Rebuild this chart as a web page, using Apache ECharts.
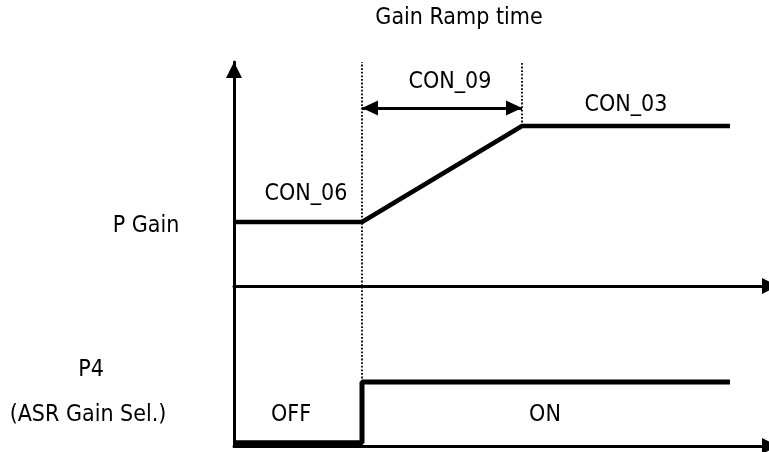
<!DOCTYPE html>
<html>
<head>
<meta charset="utf-8">
<script src="https://cdn.jsdelivr.net/npm/echarts@6/dist/echarts.min.js"></script>
<style>
html, body { margin: 0; background: #fff; }
#chart { width: 769px; height: 452px; }
</style>
</head>
<body>
<div id="chart"></div>
<script>
// time marks, same unit on both panels
var tSwitch = 4;     // P4 goes ON, ramp starts
var tRampEnd = 9;    // ramp done (CON_09)
var tEnd = 15.5;

// P Gain panel
var pGainTimes = [0, tSwitch, tRampEnd, tEnd];
var pGainValues = [2, 2, 5, 5];       // CON_06 level -> CON_03 level
var rampArrowLevel = 5.56;

// P4 panel
var p4Times = [0, tSwitch, tSwitch, tEnd];
var p4Values = [0.1, 0.1, 2, 2];      // OFF -> ON

var topTexts = ['Gain Ramp time', 'CON_09', 'CON_03', 'CON_06'];
var sideTexts = ['P Gain', 'P4', '(ASR Gain Sel.)'];
var stateTexts = ['OFF', 'ON'];

var FONT = "'DejaVu Sans Condensed', 'DejaVu Sans', sans-serif";

function zip(xs, ys){
	var out = [];
	for (var i = 0; i < xs.length; i++){
		out.push([xs[i], ys[i]]);
	}
	return out;
}

function xAxisDef(idx){
	return {
		type: 'value', gridIndex: idx, min: 0, max: 16.5,
		axisLine: {
			show: true, onZero: false,
			symbol: ['none', 'triangle'], symbolSize: [16, 16], symbolOffset: [0, 8],
			lineStyle: {color: '#000', width: 3}
		},
		axisTick: {show: false}, axisLabel: {show: false}, splitLine: {show: false}
	};
}

function yAxisDef(idx, max, arrow){
	return {
		type: 'value', gridIndex: idx, min: 0, max: max,
		axisLine: {
			show: true, onZero: false,
			symbol: arrow ? ['none', 'triangle'] : 'none',
			symbolSize: [16, 16], symbolOffset: [0, -8],
			lineStyle: {color: '#000', width: 3}
		},
		axisTick: {show: false}, axisLabel: {show: false}, splitLine: {show: false}
	};
}

var dotted = {color: '#000', width: 1.8, type: [1.8, 1.8]};

function txt(s, x, y){
	return {
		type: 'text', x: x, y: y, silent: true,
		style: {
			text: s, fill: '#000', fontSize: 23, fontFamily: FONT,
			align: 'center', verticalAlign: 'middle',
			textAlign: 'center', textVerticalAlign: 'middle'
		}
	};
}

var chart = echarts.init(document.getElementById('chart'), null, {renderer: 'canvas'});
var option = {
	animation: false,
	grid: [
		{left: 234, right: 7, top: 62, height: 224},
		{left: 234, right: 7, top: 286, height: 160}
	],
	xAxis: [xAxisDef(0), xAxisDef(1)],
	yAxis: [yAxisDef(0, 7, true), yAxisDef(1, 5, false)],
	series: [
		{
			name: 'P Gain', type: 'line', xAxisIndex: 0, yAxisIndex: 0,
			data: zip(pGainTimes, pGainValues),
			symbol: 'none', clip: false,
			lineStyle: {color: '#000', width: 4.5},
			markLine: {
				silent: true, animation: false,
				label: {show: false},
				data: [
					[{coord: [tSwitch, 0], symbol: 'none', lineStyle: dotted}, {coord: [tSwitch, 7], symbol: 'none'}],
					[{coord: [tRampEnd, pGainValues[2]], symbol: 'none', lineStyle: dotted}, {coord: [tRampEnd, 7], symbol: 'none'}],
					[
						{coord: [tSwitch, rampArrowLevel], symbol: 'triangle', symbolSize: [15, 16], symbolOffset: [0, 8],
							lineStyle: {color: '#000', width: 3, type: 'solid'}},
						{coord: [tRampEnd, rampArrowLevel], symbol: 'triangle', symbolSize: [15, 16], symbolOffset: [0, 8]}
					]
				]
			}
		},
		{
			name: 'P4', type: 'line', xAxisIndex: 1, yAxisIndex: 1,
			data: zip(p4Times, p4Values),
			symbol: 'none', clip: false,
			lineStyle: {color: '#000', width: 5},
			markLine: {
				silent: true, animation: false,
				label: {show: false},
				data: [
					[{coord: [tSwitch, p4Values[2]], symbol: 'none', lineStyle: dotted}, {coord: [tSwitch, 5], symbol: 'none'}]
				]
			}
		}
	],
	graphic: [
		txt(topTexts[0], 459, 18),
		txt(topTexts[1], 450, 82),
		txt(topTexts[2], 626, 105),
		txt(topTexts[3], 306, 194),
		txt(sideTexts[0], 146, 226),
		txt(sideTexts[1], 91, 370),
		txt(sideTexts[2], 88, 415),
		txt(stateTexts[0], 291, 415),
		txt(stateTexts[1], 545, 415)
	]
};
chart.setOption(option);
</script>
</body>
</html>
